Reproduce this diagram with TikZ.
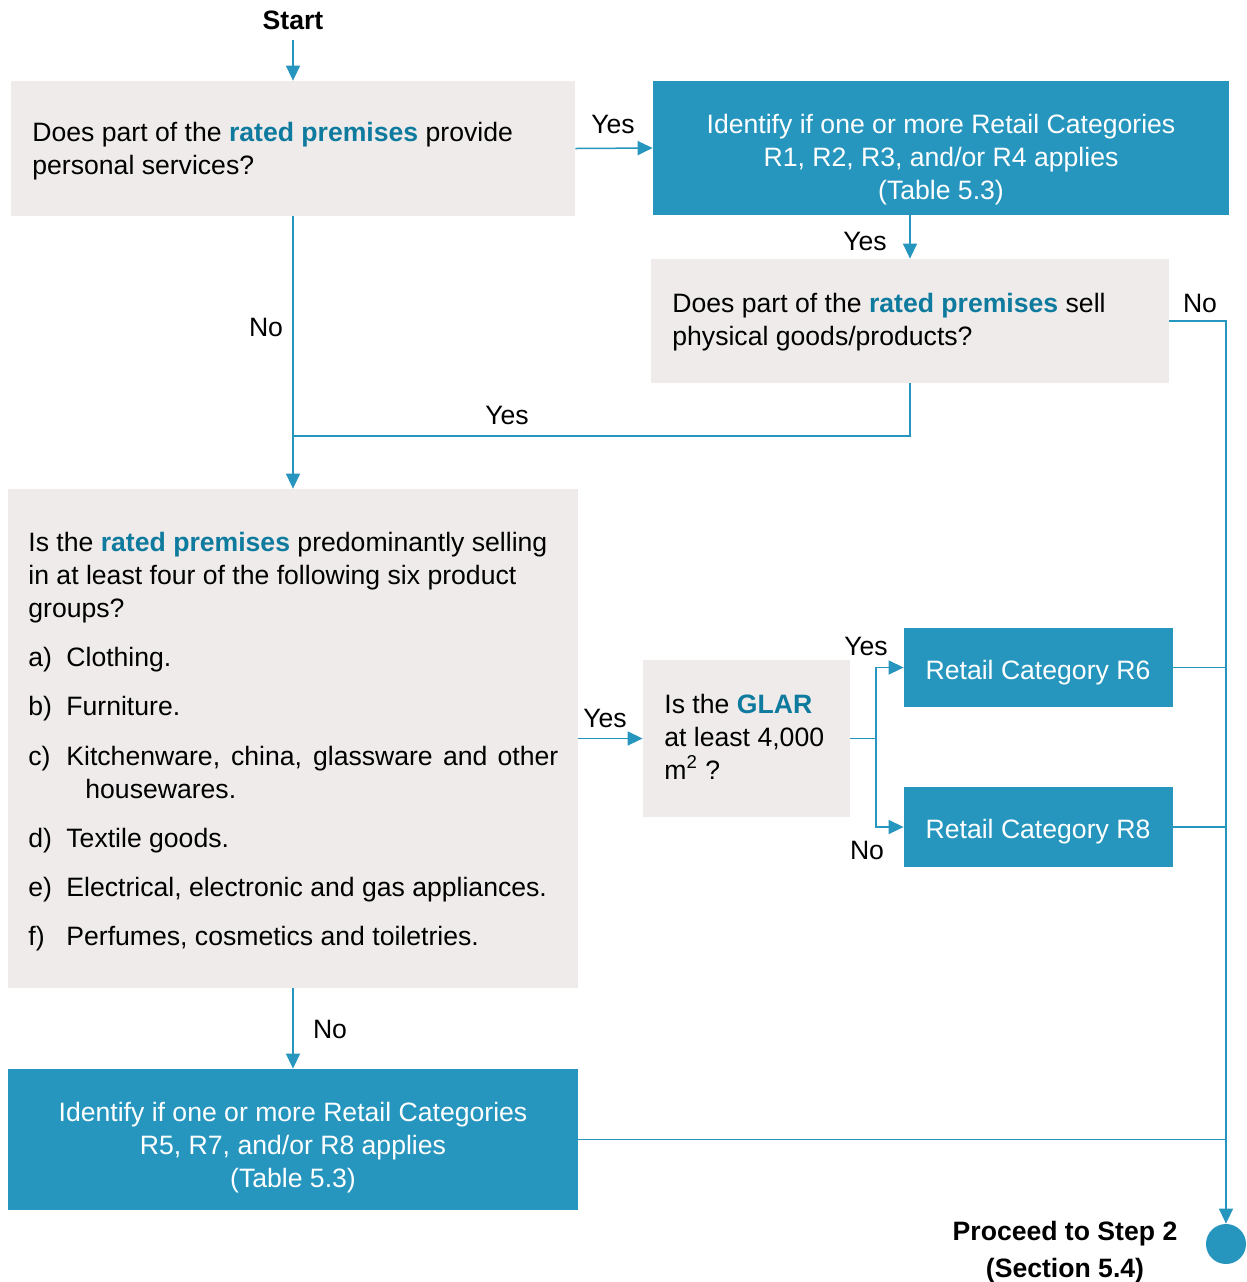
\documentclass[tikz,border=0pt]{standalone}
\usepackage{fontspec}
\setmainfont{Liberation Sans}
\usetikzlibrary{arrows.meta,fit}
\definecolor{boxblue}{RGB}{38,150,191}
\definecolor{boxgrey}{RGB}{238,235,234}
\definecolor{acc}{RGB}{14,122,158}
\definecolor{linec}{RGB}{38,150,191}
\newcommand{\accw}[1]{\textbf{\textcolor{acc}{#1}}}
\newcommand{\myfs}{\fontsize{13.3}{16.5}\selectfont}
\begin{document}
\begin{tikzpicture}[x=0.5pt,y=-0.5pt,
  greybox/.style={fill=boxgrey,draw=none,inner sep=0pt},
  bluebox/.style={fill=boxblue,draw=none,inner sep=0pt},
  txt/.style={font=\myfs,inner sep=0pt,anchor=base west},
  ctxt/.style={font=\myfs,inner sep=0pt,anchor=base},
  btxt/.style={font=\myfs\bfseries,inner sep=0pt,anchor=base},
  wtxt/.style={ctxt,text=white},
  conn/.style={draw=linec,line width=0.75pt},
  arr/.style={conn,-{Triangle[length=7.5pt,width=7pt]}}]
\useasboundingbox (0,0) rectangle (1247,1282);
% boxes
\node[greybox,fit={(11,81)(575,216)}] (b1) {};
\node[bluebox,fit={(653,81)(1229,215)}] (b2) {};
\node[greybox,fit={(651,259)(1169,383)}] (b3) {};
\node[greybox,fit={(8,489)(578,988)}] (b4) {};
\node[greybox,fit={(643,660)(850,817)}] (b5) {};
\node[bluebox,fit={(904,628)(1173,707)}] (r6) {};
\node[bluebox,fit={(904,787)(1173,867)}] (r8) {};
\node[bluebox,fit={(8,1069)(578,1210)}] (b6) {};
\node[circle,fill=boxblue,inner sep=0pt,minimum size=20pt] (end) at (1226,1244) {};
% texts
\node[btxt] (start) at (293,29) {Start};
\node[txt] (b1l1) at (32,141) {Does part of the \accw{rated premises} provide};
\node[txt] (b1l2) at (32,174) {personal services?};
\node[wtxt] (b2l1) at (941,133) {Identify if one or more Retail Categories};
\node[wtxt] (b2l2) at (941,166) {R1, R2, R3, and/or R4 applies};
\node[wtxt] (b2l3) at (941,199) {(Table 5.3)};
\node[txt] (b3l1) at (672,312) {Does part of the \accw{rated premises} sell};
\node[txt] (b3l2) at (672,345) {physical goods/products?};
\node[txt] (b4l1) at (28,551) {Is the \accw{rated premises} predominantly selling};
\node[txt] (b4l2) at (28,584) {in at least four of the following six product};
\node[txt] (b4l3) at (28,617) {groups?};
\node[txt] (la) at (28,666) {a)};
\node[txt] (ta) at (66,666) {Clothing.};
\node[txt] (lb) at (28,715) {b)};
\node[txt] (tb) at (66,715) {Furniture.};
\node[txt] (lc) at (28,765) {c)};
\node[txt] (tc) at (66,765) {\makebox[246pt][s]{Kitchenware, china, glassware and other}};
\node[txt] (tc2) at (85,798) {housewares.};
\node[txt] (ld) at (28,847) {d)};
\node[txt] (td) at (66,847) {Textile goods.};
\node[txt] (le) at (28,896) {e)};
\node[txt] (te) at (66,896) {Electrical, electronic and gas appliances.};
\node[txt] (lf) at (28,945) {f)};
\node[txt] (tf) at (66,945) {Perfumes, cosmetics and toiletries.};
\node[txt] (b5l1) at (664,713) {Is the \accw{GLAR}};
\node[txt] (b5l2) at (664,746) {at least 4,000};
\node[txt] (b5l3) at (664,779) {m\textsuperscript{2} ?};
\node[wtxt] (r6t) at (1038,679) {Retail Category R6};
\node[wtxt] (r8t) at (1038,838) {Retail Category R8};
\node[wtxt] (b6l1) at (293,1121) {Identify if one or more Retail Categories};
\node[wtxt] (b6l2) at (293,1154) {R5, R7, and/or R8 applies};
\node[wtxt] (b6l3) at (293,1187) {(Table 5.3)};
\node[btxt] (p1) at (1065,1240) {Proceed to Step 2};
\node[btxt] (p2) at (1065,1277) {(Section 5.4)};
% labels
\node[ctxt] (y1) at (613,133) {Yes};
\node[ctxt] (y2) at (865,250) {Yes};
\node[ctxt] (n1) at (1200,312) {No};
\node[ctxt] (n2) at (266,336) {No};
\node[ctxt] (y3) at (507,424) {Yes};
\node[ctxt] (y4) at (605,727) {Yes};
\node[ctxt] (y5) at (866,655) {Yes};
\node[ctxt] (n3) at (867,859) {No};
\node[ctxt] (n4) at (330,1038) {No};
% connectors
\coordinate (s0) at (293,40);
\draw[arr] (s0) -- (b1.north);
\draw[arr] (b1.east) -- (b2.west);
\draw[arr] (b2.south -| b3.north) -- (b3.north);
\draw[arr] (b3.east) -| (end.north);
\draw[conn] (b3.south) -- (910,436) -- (293,436);
\draw[arr] (b1.south) -- (b4.north);
\draw[arr] (b4.east) -- (b5.west);
\coordinate (split) at (876,738.5);
\draw[conn] (b5.east) -- (split);
\draw[arr] (split) |- (r6.west);
\draw[arr] (split) |- (r8.west);
\draw[conn] (r6.east) -- (r6.east -| end.north);
\draw[conn] (r8.east) -- (r8.east -| end.north);
\draw[arr] (b4.south) -- (b6.north);
\draw[conn] (b6.east) -- (b6.east -| end.north);
\end{tikzpicture}
\end{document}
